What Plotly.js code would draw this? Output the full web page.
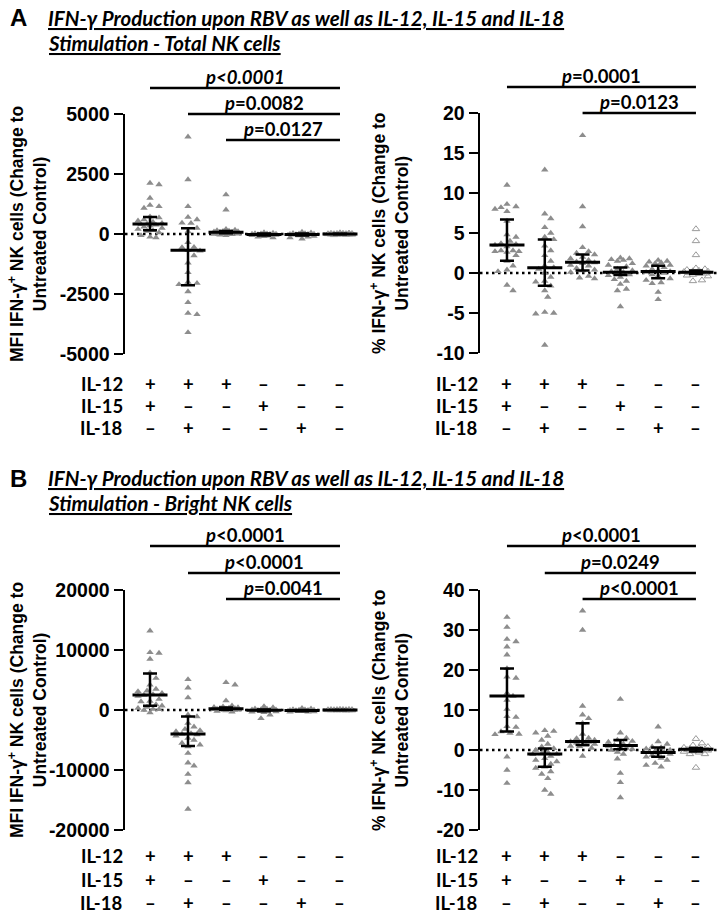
<!DOCTYPE html>
<html>
<head>
<meta charset="utf-8">
<script src="https://cdn.plot.ly/plotly-3.0.1.min.js"></script>
<style>html,body{margin:0;padding:0;background:#fff;}#chart{width:722px;height:916px;}</style>
</head>
<body>
<div id="chart"></div>
<script>
// ---------------- DATA ----------------
const categories = ['IL-12 + IL-15', 'IL-12 + IL-18', 'IL-12', 'IL-15', 'IL-18', 'Untreated'];
const il12Row = ['+', '+', '+', '–', '–', '–'];
const il15Row = ['+', '–', '–', '+', '–', '–'];
const il18Row = ['–', '+', '–', '–', '+', '–'];
const rowLabels = ['IL-12', 'IL-15', 'IL-18'];

const titleA = ['IFN-γ Production upon RBV as well as IL-12, IL-15 and IL-18', 'Stimulation - Total NK cells'];
const titleB = ['IFN-γ Production upon RBV as well as IL-12, IL-15 and IL-18', 'Stimulation - Bright NK cells'];
const yTitleMfi = 'MFI IFN-γ<sup>+</sup> NK cells (Change to<br>Untreated Control)';
const yTitlePct = '% IFN-γ<sup>+</sup> NK cells (Change to<br>Untreated Control)';

// Panel A left: MFI, total NK cells
const aMfiVals = [
  [2120, 2060, 1500, 1200, 1150, 1080, 720, 680, 600, 550, 500, 450, 420, 400, 380, 350, 300, 250, 200, 150, 120, 60, -60, -120, -150],
  [4050, 2270, 1150, 700, 600, 460, 450, 250, 100, -350, -550, -560, -680, -700, -900, -1200, -1600, -2000, -2050, -2100, -2400, -2850, -3300, -3350, -4100],
  [1640, 1010, 200, 170, 150, 130, 110, 100, 90, 80, 70, 60, 50, 40, 30, 20, 10, 0, -20, -40, -60],
  [60, 40, 20, 10, 0, -10, -20, -30, -40, -50, -60, -80, -100, -120, -20, 0, 10, -30, -40, -150],
  [80, 50, 30, 10, 0, -10, -20, -30, -40, -50, -70, -90, -120, -150, -200, 20, -20, -10],
  [40, 30, 20, 10, 5, 0, -5, -10, -15, -20, -30, -40, 0, 10, -10, 20, -20]
];
const aMfiMed = [420, -680, 70, -20, -20, 0];
const aMfiQ1 = [153, -2140, 30, -60, -60, -10];
const aMfiQ3 = [710, 236, 120, 20, 20, 10];
const aMfiTicks = [-5000, -2500, 0, 2500, 5000];
const aMfiRange = [-5000, 5000];
const aMfiP = ['p<0.0001', 'p=0.0082', 'p=0.0127'];
const aMfiPFrom = [1, 2, 3];

// Panel A right: % IFN-g+, total NK cells
const aPctVals = [
  [11.0, 8.6, 8.3, 8.2, 8.0, 7.7, 6.5, 4.8, 4.5, 4.0, 3.7, 3.6, 3.5, 3.3, 2.8, 2.8, 2.7, 2.7, 2.6, 2.2, 1.5, 0.9, 0.4, 0.2, -1.5, -2.2],
  [12.9, 7.4, 6.8, 5.7, 5.0, 4.5, 4.2, 3.4, 2.8, 2.2, 1.5, 0.9, 0.7, 0.5, 0.0, -0.5, -1.0, -1.1, -1.6, -2.2, -3.0, -4.9, -5.1, -5.0, -9.0],
  [17.2, 8.3, 5.8, 3.2, 2.7, 2.5, 2.3, 2.0, 1.8, 1.6, 1.4, 1.3, 1.2, 1.0, 0.9, 0.6, 0.4, 0.3, 0.1, -0.4, -0.6, -0.7],
  [1.9, 1.8, 1.7, 1.6, 1.5, 1.2, 1.0, 0.8, 0.5, 0.3, 0.2, 0.1, 0.0, -0.2, -0.3, -0.5, -0.8, -1.0, -1.4, -2.0, -2.2, -4.2],
  [1.6, 1.5, 1.4, 1.3, 1.2, 1.0, 0.9, 0.7, 0.5, 0.3, 0.2, 0.1, 0.0, -0.2, -0.4, -0.7, -0.9, -1.2, -1.3, -2.4, -3.3],
  [5.5, 4.0, 2.25, 0.6, 0.5, 0.4, 0.3, 0.25, 0.2, 0.15, 0.1, 0.05, 0.0, -0.05, -0.1, -0.2, -0.3, -0.4, -0.9, -1.0]
];
const aPctMed = [3.5, 0.67, 1.33, 0.1, 0.2, 0.1];
const aPctQ1 = [1.54, -1.6, 0.3, -0.25, -0.67, -0.1];
const aPctQ3 = [6.7, 4.2, 2.3, 0.7, 0.9, 0.3];
const aPctTicks = [-10, -5, 0, 5, 10, 15, 20];
const aPctRange = [-10, 20];
const aPctP = ['p=0.0001', 'p=0.0123'];
const aPctPFrom = [1, 3];

// Panel B left: MFI, bright NK cells
const bMfiVals = [
  [13200, 9600, 9500, 8500, 6200, 5300, 4200, 3500, 3200, 3100, 2800, 2600, 2500, 2300, 1800, 1500, 1400, 900, 700, 500, 300, 150, 100, 0, -450],
  [5100, 3700, 2050, -800, -1100, -2200, -2800, -3200, -3400, -3600, -3900, -4000, -4100, -4300, -4700, -5000, -5500, -5800, -6100, -7200, -8800, -9300, -10700, -12100, -16500],
  [4600, 4200, 1560, 700, 550, 450, 400, 350, 300, 250, 200, 180, 150, 120, 100, 80, 50, 20, 0, -100, -200, -300],
  [600, 400, 200, 150, 100, 50, 0, -50, -100, -150, -200, -250, -300, -400, -800, -1400, 0, -50, 50],
  [300, 200, 100, 50, 0, -50, -100, -150, -200, -250, -300, -100, -50, 0, -200, -150, -300],
  [50, 30, 20, 10, 0, -10, -20, -30, -40, 0, 10, -10, 20, -20, 5, -5]
];
const bMfiMed = [2500, -4000, 200, -50, -100, 0];
const bMfiQ1 = [720, -6000, 50, -200, -200, -10];
const bMfiQ3 = [6100, -1100, 400, 100, 0, 10];
const bMfiTicks = [-20000, -10000, 0, 10000, 20000];
const bMfiRange = [-20000, 20000];
const bMfiP = ['p<0.0001', 'p<0.0001', 'p=0.0041'];
const bMfiPFrom = [1, 2, 3];

// Panel B right: % IFN-g+, bright NK cells
const bPctVals = [
  [33.2, 30.7, 27.7, 27.1, 25.8, 23.8, 20.4, 18.3, 18.0, 14.2, 13.5, 12.5, 10.2, 8.4, 8.2, 5.9, 5.7, 4.6, 4.2, 4.0, 3.9, -1.7, -5.0, -8.3],
  [4.9, 4.7, 4.3, 3.5, 2.5, 1.5, 0.8, 0.4, 0.0, -0.5, -0.9, -1.0, -1.1, -1.5, -2.1, -2.5, -2.9, -3.5, -4.2, -4.5, -5.4, -6.0, -7.1, -10.0, -11.0],
  [34.8, 30.0, 11.0, 8.8, 7.9, 6.7, 4.0, 3.0, 2.9, 2.5, 2.2, 2.1, 2.0, 1.8, 1.5, 1.3, 1.0, 0.9, 0.5, -1.5],
  [12.7, 4.3, 3.0, 2.5, 2.2, 2.0, 1.5, 1.2, 1.1, 1.0, 0.8, 0.5, 0.2, 0.0, -0.5, -1.0, -2.2, -5.8, -8.1, -11.9],
  [5.8, 2.1, 1.5, 0.8, 0.6, 0.3, 0.0, -0.3, -0.5, -0.6, -0.7, -1.0, -1.3, -1.7, -2.0, -2.5, -3.3, -4.2, -3.8],
  [2.8, 1.7, 1.2, 0.8, 0.6, 0.5, 0.3, 0.2, 0.15, 0.1, 0.0, -0.1, -0.3, -0.4, -0.6, -1.0, -1.0, -4.4]
];
const bPctMed = [13.5, -1.0, 2.1, 1.1, -0.6, 0.17];
const bPctQ1 = [4.6, -4.2, 1.25, 0.2, -1.7, -0.4];
const bPctQ3 = [20.4, 0.4, 6.7, 2.5, 0.6, 0.5];
const bPctTicks = [-20, -10, 0, 10, 20, 30, 40];
const bPctRange = [-20, 40];
const bPctP = ['p<0.0001', 'p=0.0249', 'p<0.0001'];
const bPctPFrom = [1, 2, 3];

// ---------------- LAYOUT HELPERS ----------------
const W = 722, H = 916;
const X = px => px / W;
const Y = py => 1 - py / H;
const calib = 'Lato, "Open Sans", sans-serif';
const arial = '"Liberation Sans", Arial, sans-serif';

const panels = [
  {vals: aMfiVals, med: aMfiMed, q1: aMfiQ1, q3: aMfiQ3, ticks: aMfiTicks, yr: aMfiRange, p: aMfiP, pFrom: aMfiPFrom,
   xpx: [125, 358], ypx: [114, 354], xr: [0.342, 6.474], catSp: 38, lineY: [88, 114, 140], yTitle: yTitleMfi, titleX: 27, rowsY: [384, 406, 428], allItalicFirst: true},
  {vals: aPctVals, med: aPctMed, q1: aPctQ1, q3: aPctQ3, ticks: aPctTicks, yr: aPctRange, p: aPctP, pFrom: aPctPFrom,
   xpx: [480, 719], ypx: [113, 353], xr: [0.286, 6.61], catSp: 37.8, lineY: [87, 113], yTitle: yTitlePct, titleX: 389, rowsY: [384, 406, 428]},
  {vals: bMfiVals, med: bMfiMed, q1: bMfiQ1, q3: bMfiQ3, ticks: bMfiTicks, yr: bMfiRange, p: bMfiP, pFrom: bMfiPFrom,
   xpx: [125, 358], ypx: [590, 830], xr: [0.342, 6.474], catSp: 38, lineY: [546, 573, 599], yTitle: yTitleMfi, titleX: 27, rowsY: [856, 880, 903]},
  {vals: bPctVals, med: bPctMed, q1: bPctQ1, q3: bPctQ3, ticks: bPctTicks, yr: bPctRange, p: bPctP, pFrom: bPctPFrom,
   xpx: [480, 719], ypx: [590, 830], xr: [0.286, 6.61], catSp: 37.8, lineY: [546, 573, 599], yTitle: yTitlePct, titleX: 389, rowsY: [856, 880, 903]}
];

// deterministic beeswarm offsets (pixel space)
function swarm(vals, pxPerUnitY) {
  const d = 6.5, step = 3, maxOff = 14;
  const order = vals.map((v, i) => i).sort((a, b) => vals[b] - vals[a]);
  const placed = [];
  const offs = new Array(vals.length).fill(0);
  for (const i of order) {
    const y = vals[i] * pxPerUnitY;
    let best = 0, bestScore = -1, done = false;
    for (let k = 0; k * step <= maxOff && !done; k++) {
      const cands = k === 0 ? [0] : [k * step, -k * step];
      for (const c of cands) {
        let minD = Infinity;
        for (const p of placed) { const dd = Math.hypot(p.x - c, p.y - y); if (dd < minD) minD = dd; }
        if (minD >= d) { best = c; done = true; break; }
        if (minD > bestScore) { bestScore = minD; best = c; }
      }
    }
    placed.push({x: best, y: y});
    offs[i] = best;
  }
  return offs;
}

function fmtP(s, allItalic) {
  const t = s.replace('<', '&lt;');
  if (allItalic) return '<b><i>' + t + '</i></b>';
  return '<b><i>p</i>' + t.slice(1) + '</b>';
}

const traces = [];
const shapes = [];
const annotations = [];
const layout = {
  width: W, height: H, margin: {l: 0, r: 0, t: 0, b: 0},
  paper_bgcolor: '#ffffff', plot_bgcolor: 'rgba(0,0,0,0)', showlegend: false,
  shapes: shapes, annotations: annotations
};

panels.forEach((P, pi) => {
  const n = pi + 1;
  const xa = n === 1 ? 'x' : 'x' + n;
  const ya = n === 1 ? 'y' : 'y' + n;
  const xKey = n === 1 ? 'xaxis' : 'xaxis' + n;
  const yKey = n === 1 ? 'yaxis' : 'yaxis' + n;
  layout[xKey] = {domain: [X(P.xpx[0]), X(P.xpx[1])], range: P.xr, visible: false, fixedrange: true, anchor: ya};
  layout[yKey] = {
    domain: [Y(P.ypx[1]), Y(P.ypx[0])], range: P.yr, anchor: xa,
    showline: true, linewidth: 2.5, linecolor: '#000', mirror: false,
    ticks: 'outside', ticklen: 9, tickwidth: 2.5, tickcolor: '#000',
    tickvals: P.ticks, ticktext: P.ticks.map(v => String(v)),
    tickfont: {family: arial, size: 19.5, color: '#000', weight: 'bold'},
    showgrid: false, zeroline: false, fixedrange: true
  };
  const pxPerY = (P.ypx[1] - P.ypx[0]) / (P.yr[1] - P.yr[0]);
  // points
  const fx = [], fy = [], hx = [], hy = [];
  P.vals.forEach((g, gi) => {
    const offs = swarm(g, pxPerY);
    g.forEach((v, k) => {
      const xv = (gi + 1) + offs[k] / P.catSp;
      if (gi === 5) { hx.push(xv); hy.push(v); } else { fx.push(xv); fy.push(v); }
    });
  });
  traces.push({type: 'scatter', mode: 'markers', x: fx, y: fy, xaxis: xa, yaxis: ya, cliponaxis: false,
    marker: {symbol: 'triangle-up', size: 6.5, color: '#8d8d8d', line: {width: 0}}, hoverinfo: 'skip'});
  traces.push({type: 'scatter', mode: 'markers', x: hx, y: hy, xaxis: xa, yaxis: ya, cliponaxis: false,
    marker: {symbol: 'triangle-up-open', size: 6.5, color: '#9a9a9a', line: {width: 1, color: '#9a9a9a'}}, hoverinfo: 'skip'});
  // median + IQR
  const xs = P.med.map((m, i) => i + 1);
  traces.push({type: 'scatter', mode: 'markers', x: xs, y: P.med, xaxis: xa, yaxis: ya, cliponaxis: false,
    marker: {symbol: 'line-ew', size: 25, color: '#000', line: {width: 3, color: '#000'}},
    error_y: {type: 'data', symmetric: false, array: P.q3.map((q, i) => q - P.med[i]), arrayminus: P.med.map((m, i) => m - P.q1[i]),
      color: '#000', thickness: 2.5, width: 7}, hoverinfo: 'skip'});
  // dotted zero line
  shapes.push({type: 'line', xref: xa, yref: ya, x0: P.xr[0], x1: P.xr[1], y0: 0, y1: 0,
    line: {color: '#000', width: 2.5, dash: '2.5px,3.5px'}, layer: 'below'});
  // significance brackets
  P.p.forEach((s, i) => {
    const ly = P.lineY[i];
    shapes.push({type: 'line', xref: xa, yref: 'paper', x0: P.pFrom[i], x1: 6, y0: Y(ly), y1: Y(ly), line: {color: '#000', width: 2.5}});
    annotations.push({xref: xa, yref: 'paper', x: (P.pFrom[i] + 6) / 2, y: Y(ly - 11), text: fmtP(s, P.allItalicFirst && i === 0),
      showarrow: false, xanchor: 'center', yanchor: 'middle', font: {family: calib, size: 18.5, color: '#000'}});
  });
  // y-axis title
  annotations.push({xref: 'paper', yref: 'paper', x: X(P.titleX), y: Y((P.ypx[0] + P.ypx[1]) / 2), text: '<b>' + P.yTitle + '</b>',
    textangle: -90, showarrow: false, xanchor: 'center', yanchor: 'middle', font: {family: arial, size: 17.5, color: '#000'}});
  // stimulation rows
  [il12Row, il15Row, il18Row].forEach((row, ri) => {
    annotations.push({xref: 'paper', yref: 'paper', x: X(P.xpx[0]), y: Y(P.rowsY[ri]), text: '<b>' + rowLabels[ri] + '</b>',
      showarrow: false, xanchor: 'right', yanchor: 'middle', font: {family: calib, size: 18.5, color: '#000'}});
    row.forEach((sym, ci) => {
      annotations.push({xref: xa, yref: 'paper', x: ci + 1, y: Y(P.rowsY[ri]), text: '<b>' + sym + '</b>',
        showarrow: false, xanchor: 'center', yanchor: 'middle', font: {family: calib, size: 18.5, color: '#000'}});
    });
  });
});

// panel letters and titles
[['A', titleA, 18, 43], ['B', titleB, 478, 503]].forEach(([letter, t, y1, y2]) => {
  annotations.push({xref: 'paper', yref: 'paper', x: X(8), y: Y(y1), text: '<b>' + letter + '</b>', showarrow: false,
    xanchor: 'left', yanchor: 'middle', font: {family: arial, size: 24, color: '#000'}});
  annotations.push({xref: 'paper', yref: 'paper', x: X(46), y: Y(y1), text: '<b><i><u>' + t[0] + '</u></i></b>', showarrow: false,
    xanchor: 'left', yanchor: 'middle', font: {family: calib, size: 20.5, color: '#000'}});
  annotations.push({xref: 'paper', yref: 'paper', x: X(46), y: Y(y2), text: '<b><i><u>' + t[1] + '</u></i></b>', showarrow: false,
    xanchor: 'left', yanchor: 'middle', font: {family: calib, size: 20.5, color: '#000'}});
});

Plotly.newPlot('chart', traces, layout, {staticPlot: true, displayModeBar: false});
</script>
</body>
</html>
